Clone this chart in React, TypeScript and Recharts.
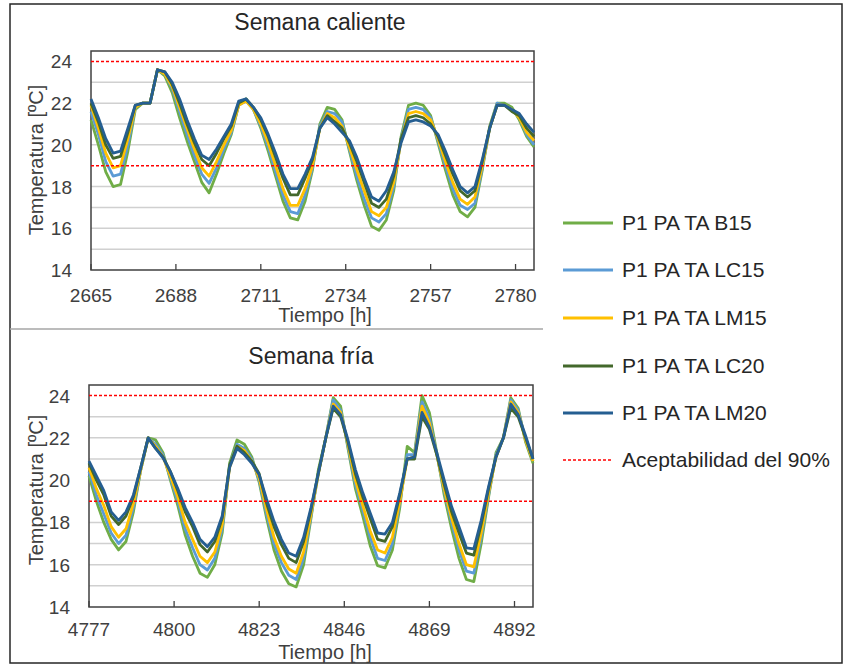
import { LineChart, Line, XAxis, YAxis, CartesianGrid, ReferenceLine, ReferenceArea } from "recharts";

// ---- Semana caliente ----
const hotHours = [
  2665, 2667, 2669, 2671, 2673, 2675, 2677, 2679, 2681, 2683,
  2685, 2687, 2689, 2691, 2693, 2695, 2697, 2699, 2701, 2703,
  2705, 2707, 2709, 2711, 2713, 2715, 2717, 2719, 2721, 2723,
  2725, 2727, 2729, 2731, 2733, 2735, 2737, 2739, 2741, 2743,
  2745, 2747, 2749, 2751, 2753, 2755, 2757, 2759, 2761, 2763,
  2765, 2767, 2769, 2771, 2773, 2775, 2777, 2779, 2781, 2783, 2785,
];
const hotB15 = [
  21.2, 20.0, 18.7, 18.0, 18.1, 19.7, 21.7, 22.0, 22.0, 23.6,
  23.3, 22.5, 21.3, 20.2, 19.2, 18.2, 17.7, 18.6, 19.6, 20.5,
  21.9, 22.2, 21.7, 20.8, 19.7, 18.5, 17.3, 16.5, 16.4, 17.3,
  18.8, 21.0, 21.8, 21.7, 21.2, 19.7, 18.3, 17.1, 16.1, 15.9,
  16.4, 17.8, 20.4, 21.9, 22.0, 21.9, 21.4, 20.1, 18.8, 17.6,
  16.8, 16.55, 17.0, 18.8, 20.9, 22.0, 22.0, 21.8, 21.2, 20.4, 19.9,
];
const hotLC15 = [
  21.6, 20.5, 19.2, 18.5, 18.6, 20.0, 21.8, 22.0, 22.0, 23.6,
  23.4, 22.7, 21.6, 20.5, 19.5, 18.6, 18.15, 18.9, 19.8, 20.6,
  21.9, 22.1, 21.7, 20.9, 19.9, 18.7, 17.6, 16.8, 16.7, 17.6,
  18.9, 20.9, 21.6, 21.5, 21.1, 19.8, 18.5, 17.4, 16.5, 16.3,
  16.7, 18.0, 20.3, 21.7, 21.8, 21.7, 21.3, 20.2, 19.0, 17.9,
  17.1, 16.9, 17.2, 18.9, 20.8, 22.0, 21.9, 21.7, 21.3, 20.5, 20.0,
];
const hotLM15 = [
  21.9, 20.8, 19.6, 18.9, 19.0, 20.3, 21.8, 22.0, 22.0, 23.6,
  23.4, 22.8, 21.8, 20.8, 19.8, 18.9, 18.5, 19.2, 20.0, 20.7,
  21.9, 22.1, 21.7, 21.0, 20.1, 19.0, 17.9, 17.1, 17.1, 17.9,
  19.0, 20.8, 21.5, 21.3, 20.9, 19.9, 18.8, 17.8, 16.8, 16.6,
  17.0, 18.2, 20.2, 21.5, 21.6, 21.5, 21.2, 20.3, 19.2, 18.2,
  17.4, 17.15, 17.5, 19.0, 20.8, 21.9, 21.9, 21.7, 21.3, 20.6, 20.2,
];
const hotLC20 = [
  22.0, 21.1, 20.0, 19.35, 19.45, 20.6, 21.9, 22.0, 22.0, 23.6,
  23.5, 22.9, 22.0, 21.0, 20.1, 19.3, 19.0, 19.6, 20.3, 20.9,
  22.0, 22.2, 21.8, 21.2, 20.4, 19.4, 18.4, 17.6, 17.6, 18.4,
  19.3, 20.8, 21.4, 21.1, 20.8, 20.1, 19.2, 18.2, 17.2, 17.0,
  17.4, 18.5, 20.3, 21.3, 21.4, 21.3, 21.0, 20.4, 19.5, 18.6,
  17.8, 17.5, 17.8, 19.2, 20.8, 21.9, 21.9, 21.6, 21.4, 20.8, 20.4,
];
const hotLM20 = [
  22.2, 21.3, 20.3, 19.6, 19.7, 20.8, 21.9, 22.0, 22.0, 23.6,
  23.5, 23.0, 22.2, 21.2, 20.3, 19.5, 19.3, 19.8, 20.4, 21.0,
  22.1, 22.2, 21.8, 21.3, 20.5, 19.6, 18.6, 17.9, 17.9, 18.6,
  19.4, 20.8, 21.3, 21.0, 20.6, 20.2, 19.4, 18.4, 17.5, 17.3,
  17.8, 18.7, 20.1, 21.1, 21.2, 21.1, 20.9, 20.5, 19.7, 18.8,
  18.0, 17.7, 18.0, 19.3, 20.8, 21.9, 21.9, 21.7, 21.5, 21.0, 20.6,
];
const hotTicks = [2665, 2688, 2711, 2734, 2757, 2780];

// ---- Semana fría ----
const coldHours = [
  4777, 4779, 4781, 4783, 4785, 4787, 4789, 4791, 4793, 4795,
  4797, 4799, 4801, 4803, 4805, 4807, 4809, 4811, 4813, 4815,
  4817, 4819, 4821, 4823, 4825, 4827, 4829, 4831, 4833, 4835,
  4837, 4839, 4841, 4843, 4845, 4847, 4849, 4851, 4853, 4855,
  4857, 4859, 4861, 4863, 4865, 4867, 4869, 4871, 4873, 4875,
  4877, 4879, 4881, 4883, 4885, 4887, 4889, 4891, 4893, 4895, 4897,
];
const coldB15 = [
  20.2, 19.0, 18.0, 17.2, 16.7, 17.1, 18.5, 20.5, 22.0, 21.9,
  21.3, 20.0, 18.8, 17.4, 16.4, 15.6, 15.4, 16.0, 17.5, 20.8,
  21.9, 21.7, 21.1, 19.9, 18.2, 16.7, 15.7, 15.1, 14.95, 16.0,
  18.2, 20.5, 22.0, 23.9, 23.5, 21.5, 19.6, 18.3, 16.9, 15.95,
  15.85, 16.7, 18.7, 21.6, 21.3, 24.0, 23.2, 21.3, 19.3, 17.7,
  16.3, 15.3, 15.2, 17.0, 19.2, 21.3, 22.0, 23.9, 23.4, 21.8, 20.8,
];
const coldLC15 = [
  20.4, 19.3, 18.4, 17.5, 17.0, 17.4, 18.7, 20.5, 22.0, 21.7,
  21.2, 20.1, 19.0, 17.7, 16.8, 16.0, 15.75, 16.3, 17.7, 20.7,
  21.7, 21.5, 21.0, 20.0, 18.4, 17.0, 16.1, 15.5, 15.3, 16.3,
  18.3, 20.3, 22.0, 23.8, 23.3, 21.6, 19.8, 18.6, 17.3, 16.3,
  16.2, 17.0, 18.9, 21.2, 21.2, 23.7, 22.9, 21.2, 19.5, 18.0,
  16.7, 15.7, 15.6, 17.3, 19.3, 21.2, 22.0, 23.8, 23.3, 21.9, 20.9,
];
const coldLM15 = [
  20.6, 19.6, 18.8, 17.8, 17.3, 17.7, 18.9, 20.5, 22.0, 21.6,
  21.1, 20.2, 19.2, 18.0, 17.2, 16.4, 16.1, 16.6, 17.9, 20.6,
  21.6, 21.4, 20.9, 20.1, 18.6, 17.3, 16.4, 15.8, 15.6, 16.6,
  18.4, 20.3, 22.0, 23.6, 23.2, 21.7, 20.0, 18.8, 17.6, 16.7,
  16.55, 17.3, 19.0, 21.0, 21.1, 23.5, 22.7, 21.2, 19.6, 18.2,
  17.0, 16.0, 15.9, 17.5, 19.4, 21.1, 22.0, 23.7, 23.2, 21.9, 20.9,
];
const coldLC20 = [
  20.8, 20.0, 19.3, 18.3, 17.9, 18.3, 19.2, 20.6, 22.0, 21.5,
  21.1, 20.4, 19.5, 18.5, 17.8, 16.95, 16.6, 17.1, 18.2, 20.7,
  21.6, 21.3, 20.9, 20.3, 18.9, 17.8, 16.95, 16.3, 16.1, 17.1,
  18.6, 20.35, 22.0, 23.4, 23.0, 21.8, 20.3, 19.2, 18.2, 17.2,
  17.1, 17.8, 19.3, 21.0, 21.0, 23.0, 22.4, 21.2, 19.8, 18.5,
  17.5, 16.55, 16.45, 17.9, 19.6, 21.1, 22.0, 23.4, 23.0, 22.0, 21.0,
];
const coldLM20 = [
  20.9, 20.2, 19.5, 18.5, 18.1, 18.5, 19.3, 20.6, 22.0, 21.5,
  21.05, 20.4, 19.6, 18.7, 18.0, 17.2, 16.85, 17.3, 18.3, 20.6,
  21.5, 21.2, 20.8, 20.25, 19.1, 18.05, 17.2, 16.55, 16.4, 17.3,
  18.7, 20.35, 22.0, 23.5, 23.1, 21.9, 20.5, 19.4, 18.45, 17.5,
  17.45, 18.0, 19.4, 21.0, 21.1, 23.2, 22.5, 21.3, 20.0, 18.75,
  17.8, 16.8, 16.75, 18.1, 19.7, 21.1, 22.0, 23.6, 23.1, 22.1, 21.0,
];
const coldTicks = [4777, 4800, 4823, 4846, 4869, 4892];

const yTicks = [14, 15, 16, 17, 18, 19, 20, 21, 22, 23, 24];
const gridValues = [15, 16, 17, 18, 20, 21, 22, 23];
const limits = [19, 24];
const seriesKeys = ["b15", "lc15", "lm15", "lc20", "lm20"];
const seriesNames = ["P1 PA TA B15", "P1 PA TA LC15", "P1 PA TA LM15", "P1 PA TA LC20", "P1 PA TA LM20"];
const seriesColors = ["#70AD47", "#5B9BD5", "#FFC000", "#43682B", "#255E91"];
const limitName = "Aceptabilidad del 90%";

const FONT = "'Liberation Sans', Arial, sans-serif";
const TEXT = "#404040";
const RED = "#FF0000";

function buildRows(hours: number[], cols: number[][]) {
  return hours.map((h, i) => {
    const row: Record<string, number> = { h };
    seriesKeys.forEach((k, j) => (row[k] = cols[j][i]));
    return row;
  });
}

const hotRows = buildRows(hotHours, [hotB15, hotLC15, hotLM15, hotLC20, hotLM20]);
const coldRows = buildRows(coldHours, [coldB15, coldLC15, coldLM15, coldLC20, coldLM20]);

function XTick({ x, y, payload, dy }: any) {
  return (
    <g>
      <line x1={x} x2={x} y1={y - 6} y2={y} stroke={TEXT} strokeWidth={1.3} />
      <text x={x} y={y + dy} textAnchor="middle" fontSize={19} fill={TEXT} fontFamily={FONT}>
        {payload.value}
      </text>
    </g>
  );
}

function YTick({ x, y, payload }: any) {
  if (payload.value % 2 !== 0) return <g />;
  return (
    <text x={x - 19} y={y + 7} textAnchor="end" fontSize={19} fill={TEXT} fontFamily={FONT}>
      {payload.value}
    </text>
  );
}

function WeekChart({ rows, ticks, domain, yAxisWidth, top, right, xAxisHeight, height, tickDy }: any) {
  return (
    <LineChart width={560} height={height} data={rows} margin={{ top, right, bottom: 0, left: 0 }}>
      <CartesianGrid vertical={false} horizontalValues={gridValues} stroke="#D0D0D0" strokeWidth={1.5} />
      <XAxis
        dataKey="h"
        type="number"
        domain={domain}
        ticks={ticks}
        interval={0}
        height={xAxisHeight}
        axisLine={false}
        tickLine={false}
        tickSize={0}
        tickMargin={0}
        tick={(p: any) => <XTick {...p} dy={tickDy} />}
      />
      <YAxis
        type="number"
        domain={[14, 24.5]}
        ticks={yTicks}
        interval={0}
        width={yAxisWidth}
        axisLine={false}
        tickLine={false}
        tickSize={0}
        tickMargin={0}
        tick={(p: any) => <YTick {...p} />}
      />
      {seriesKeys.map((k, i) => (
        <Line
          key={k}
          dataKey={k}
          type="linear"
          stroke={seriesColors[i]}
          strokeWidth={2.8}
          strokeLinejoin="round"
          dot={false}
          isAnimationActive={false}
        />
      ))}
      {limits.map((v) => (
        <ReferenceLine key={v} y={v} stroke={RED} strokeWidth={1.5} strokeDasharray="3 2" />
      ))}
      <ReferenceArea
        x1={domain[0]}
        x2={domain[1]}
        y1={14}
        y2={24.5}
        fill="none"
        stroke="#404040"
        strokeWidth={1.5}
        ifOverflow="visible"
      />
    </LineChart>
  );
}

export default function App() {
  const legendRows = [223, 270, 318, 366, 413, 460];
  return (
    <div
      style={{
        position: "absolute",
        left: 0,
        top: 0,
        width: 844,
        height: 666,
        background: "#fff",
        fontFamily: FONT,
      }}
    >
      <div style={{ position: "absolute", left: 0, top: 0 }}>
        <WeekChart
          rows={hotRows}
          ticks={hotTicks}
          domain={[2665, 2785]}
          yAxisWidth={91}
          top={51}
          right={26}
          xAxisHeight={60}
          height={330}
          tickDy={32}
        />
      </div>
      <div style={{ position: "absolute", left: 0, top: 330 }}>
        <WeekChart
          rows={coldRows}
          ticks={coldTicks}
          domain={[4777, 4897]}
          yAxisWidth={89}
          top={55}
          right={27}
          xAxisHeight={59}
          height={336}
          tickDy={29}
        />
      </div>
      <svg
        width={844}
        height={666}
        style={{ position: "absolute", left: 0, top: 0, pointerEvents: "none" }}
        fontFamily={FONT}
      >
        <rect x={10} y={4} width={832} height={659} fill="none" stroke="#262626" strokeWidth={1.5} />
        <line x1={10} x2={543} y1={329} y2={329} stroke="#A6A6A6" strokeWidth={1.5} />
        <text x={320} y={30} textAnchor="middle" fontSize={23} fill="#262626">Semana caliente</text>
        <text x={311} y={364} textAnchor="middle" fontSize={23} fill="#262626">Semana fría</text>
        <text x={325} y={322} textAnchor="middle" fontSize={20} fill={TEXT}>Tiempo [h]</text>
        <text x={325} y={659} textAnchor="middle" fontSize={20} fill={TEXT}>Tiempo [h]</text>
        <text x={43} y={160} textAnchor="middle" fontSize={20} fill={TEXT} transform="rotate(-90 43 160)">
          Temperatura [ºC]
        </text>
        <text x={43} y={490} textAnchor="middle" fontSize={20} fill={TEXT} transform="rotate(-90 43 490)">
          Temperatura [ºC]
        </text>
        {seriesNames.map((n, i) => (
          <g key={n}>
            <line x1={563} x2={613} y1={legendRows[i]} y2={legendRows[i]} stroke={seriesColors[i]} strokeWidth={2.8} />
            <text x={622} y={legendRows[i] + 7} fontSize={21} fill="#262626">{n}</text>
          </g>
        ))}
        <line x1={563} x2={613} y1={legendRows[5]} y2={legendRows[5]} stroke={RED} strokeWidth={1.5} strokeDasharray="3 2" />
        <text x={622} y={legendRows[5] + 7} fontSize={21} fill="#262626">{limitName}</text>
      </svg>
    </div>
  );
}
